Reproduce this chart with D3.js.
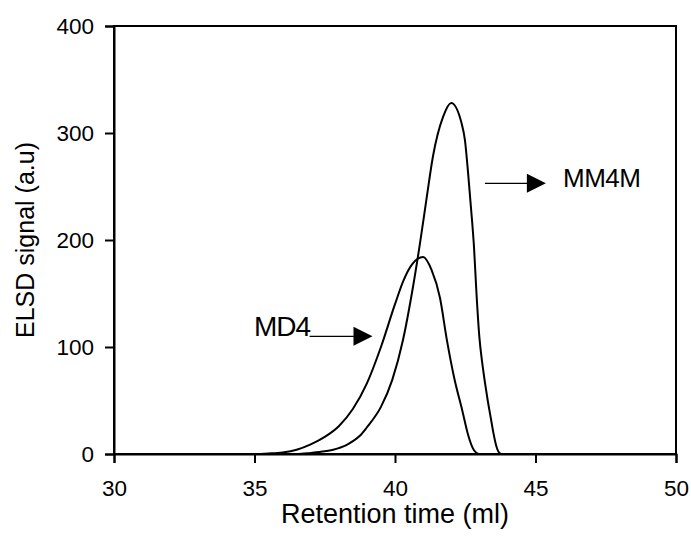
<!DOCTYPE html>
<html>
<head>
<meta charset="utf-8">
<script src="https://cdn.jsdelivr.net/npm/d3@7"></script>
<style>
  html, body { margin: 0; padding: 0; background: #fff; }
  svg { display: block; }
  text { font-family: "Liberation Sans", Arial, sans-serif; fill: #000; }
</style>
</head>
<body>
<svg id="chart" width="691" height="538"></svg>
<script>
// ---- data ----
const xTicks = [30, 35, 40, 45, 50];
const yTicks = [0, 100, 200, 300, 400];

const md4X = [30, 35.0, 35.5, 36.0, 36.5, 37.0, 37.5, 38.0, 38.5, 39.0, 39.5, 40.0, 40.3, 40.6, 41.0, 41.3, 41.6, 41.85, 42.1, 42.4, 42.6, 42.8, 43.0, 50];
const md4Y = [0, 0, 0.5, 1.5, 4, 9, 16, 26, 42, 66, 100, 140, 162, 177, 184, 172, 146, 106, 72, 40, 18, 4, 0, 0];

const mm4mX = [30, 36.5, 37.0, 37.5, 37.8, 38.25, 38.5, 38.75, 39.0, 39.5, 39.9, 40.28, 40.6, 40.89, 41.13, 41.35, 41.71, 42.0, 42.37, 42.49, 42.6, 42.73, 42.81, 42.9, 43.0, 43.1, 43.2, 43.3, 43.4, 43.5, 43.6, 43.7, 43.8, 50];
const mm4mY = [0, 0, 1, 2.5, 4, 8, 12, 17, 25, 44, 69, 106, 150, 197, 240, 278, 315, 328, 309, 293, 263, 222, 194, 150, 110, 86, 67, 50, 35, 20, 8, 1.5, 0, 0];

const xLabel = "Retention time (ml)";
const yLabel = "ELSD signal (a.u)";
const annotations = ["MD4", "MM4M"];

// ---- layout ----
const W = 691, H = 538;
const m = { left: 114, top: 26, right: 15, bottom: 84 };
const svg = d3.select("#chart");

const x = d3.scaleLinear().domain([30, 50]).range([m.left, W - m.right]);
const y = d3.scaleLinear().domain([0, 400]).range([H - m.bottom, m.top]);

// frame
svg.append("rect")
  .attr("x", x(30)).attr("y", y(400))
  .attr("width", x(50) - x(30)).attr("height", y(0) - y(400))
  .attr("fill", "none").attr("stroke", "#000").attr("stroke-width", 2);

// axes
const xAxis = svg.append("g")
  .attr("transform", `translate(0,${y(0)})`)
  .call(d3.axisBottom(x).tickValues(xTicks).tickSize(9).tickPadding(17).tickFormat(d3.format("d")));
const yAxis = svg.append("g")
  .attr("transform", `translate(${x(30)},0)`)
  .call(d3.axisLeft(y).tickValues(yTicks).tickSize(9).tickPadding(11).tickFormat(d3.format("d")));

[xAxis, yAxis].forEach(g => {
  g.select(".domain").attr("stroke", "#000").attr("stroke-width", 2);
  g.selectAll(".tick line").attr("stroke", "#000").attr("stroke-width", 2);
  g.selectAll(".tick text").attr("font-size", 22.5).attr("fill", "#000")
    .style("font-family", '"Liberation Sans", Arial, sans-serif');
});

// axis titles
svg.append("text")
  .attr("x", (x(30) + x(50)) / 2).attr("y", 523)
  .attr("text-anchor", "middle").attr("font-size", 27)
  .text(xLabel);

svg.append("text")
  .attr("transform", `translate(34,${(y(0) + y(400)) / 2}) rotate(-90)`)
  .attr("text-anchor", "middle").attr("font-size", 25)
  .text(yLabel);

// curves
const line = d3.line()
  .x(d => x(d[0])).y(d => y(d[1]))
  .curve(d3.curveMonotoneX);

svg.append("clipPath").attr("id", "clip")
  .append("rect").attr("x", x(30)).attr("y", y(400))
  .attr("width", x(50) - x(30)).attr("height", y(0) - y(400));

const g = svg.append("g").attr("clip-path", "url(#clip)");
g.append("path")
  .datum(md4X.map((v, i) => [v, md4Y[i]]))
  .attr("d", line).attr("fill", "none").attr("stroke", "#000").attr("stroke-width", 2);
g.append("path")
  .datum(mm4mX.map((v, i) => [v, mm4mY[i]]))
  .attr("d", line).attr("fill", "none").attr("stroke", "#000").attr("stroke-width", 2);

// annotations with arrows
function arrow(x0, x1, yv) {
  const headLen = 19, headHalf = 9.5;
  svg.append("line")
    .attr("x1", x0).attr("y1", yv).attr("x2", x1 - headLen + 1).attr("y2", yv)
    .attr("stroke", "#000").attr("stroke-width", 1.3);
  svg.append("path")
    .attr("d", `M${x1 - headLen},${yv - headHalf} L${x1},${yv} L${x1 - headLen},${yv + headHalf} Z`)
    .attr("fill", "#000");
}

svg.append("text").attr("x", 254).attr("y", 336)
  .attr("font-size", 28).attr("letter-spacing", -1).text(annotations[0]);
arrow(x(36.96), x(39.2), y(110));

svg.append("text").attr("x", 563).attr("y", 187)
  .attr("font-size", 26).attr("letter-spacing", -0.5).text(annotations[1]);
arrow(x(43.2), x(45.37), y(253));
</script>
</body>
</html>
